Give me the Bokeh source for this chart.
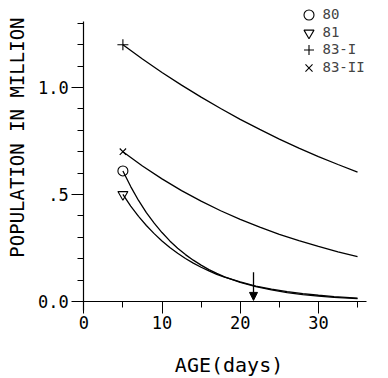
import math
from bokeh.plotting import figure
from bokeh.models import (Range1d, SingleIntervalTicker, Legend, LegendItem, Label,
                          Arrow, NormalHead)
from bokeh.embed import file_html
from bokeh.resources import INLINE

# ---- data ----
series_names = ["80", "81", "83-I", "83-II"]
obs_day = [5, 5, 5, 5]
obs_pop = [0.61, 0.50, 1.20, 0.70]

day_fast = [5, 6, 7, 8, 9, 10, 11, 12, 13, 14, 15, 16, 17, 18, 20, 22, 24, 26, 28, 30, 32, 35]
pop_80 = [0.610, 0.537, 0.472, 0.415, 0.366, 0.322, 0.283, 0.249, 0.219, 0.193, 0.170,
          0.149, 0.131, 0.115, 0.089, 0.069, 0.054, 0.041, 0.032, 0.025, 0.019, 0.013]
pop_81 = [0.500, 0.446, 0.398, 0.355, 0.317, 0.283, 0.252, 0.225, 0.201, 0.179, 0.160,
          0.143, 0.127, 0.114, 0.091, 0.072, 0.058, 0.046, 0.037, 0.029, 0.023, 0.016]

day_slow = [5, 7.5, 10, 12.5, 15, 17.5, 20, 22.5, 25, 27.5, 30, 32.5, 35]
pop_83_1 = [1.200, 1.133, 1.070, 1.011, 0.955, 0.902, 0.851, 0.804, 0.759, 0.717, 0.677, 0.640, 0.604]
pop_83_2 = [0.700, 0.633, 0.573, 0.518, 0.469, 0.424, 0.384, 0.347, 0.314, 0.284, 0.257, 0.232, 0.210]

arrow_day = 21.7
arrow_from = 0.137
arrow_to = 0.005

x_tick_labels = {0: "0", 10: "10", 20: "20", 30: "30"}
y_tick_labels = {0: "0.0", 0.5: ".5", 1: "1.0"}
x_title = "AGE(days)"
y_title = "POPULATION IN MILLION"

# axis extents (drawn lines slightly overshoot the origin, as in the original plot)
x_axis_bounds = (-1.06, 36.2)
y_axis_bounds = (-0.042, 1.308)

FONT = "DejaVu Sans Mono"

p = figure(width=388, height=378, output_backend="svg", toolbar_location=None,
           x_range=Range1d(-10.65, 38.96), y_range=Range1d(-0.36, 1.4065),
           min_border_left=0, min_border_right=0, min_border_top=0, min_border_bottom=0)
p.outline_line_color = None
p.grid.visible = False
p.background_fill_color = "white"
p.border_fill_color = "white"

p.xaxis.ticker = SingleIntervalTicker(interval=10, num_minor_ticks=2)
p.yaxis.ticker = SingleIntervalTicker(interval=0.5, num_minor_ticks=5)
p.xaxis.fixed_location = 0
p.yaxis.fixed_location = 0
p.xaxis.bounds = x_axis_bounds
p.yaxis.bounds = y_axis_bounds
p.xaxis.major_label_overrides = x_tick_labels
p.yaxis.major_label_overrides = y_tick_labels
for ax in (p.xaxis, p.yaxis):
    ax.axis_line_color = "black"
    ax.axis_line_width = 1.2
    ax.major_tick_in = 0
    ax.major_tick_out = 12
    ax.minor_tick_in = 0
    ax.minor_tick_out = 6
    ax.major_tick_line_color = "black"
    ax.minor_tick_line_color = "black"
    ax.major_label_text_font = FONT
    ax.major_label_text_font_size = "17px"
    ax.major_label_text_color = "black"
p.xaxis.major_label_standoff = 3
p.yaxis.major_label_standoff = 3
p.yaxis.major_label_orientation = "horizontal"

lw = 1.3
p.line(day_slow, pop_83_1, line_color="black", line_width=lw)
p.line(day_slow, pop_83_2, line_color="black", line_width=lw)
p.line(day_fast, pop_80, line_color="black", line_width=lw)
p.line(day_fast, pop_81, line_color="black", line_width=lw)

r80 = p.scatter([obs_day[0]], [obs_pop[0]], marker="circle", size=10, fill_color=None,
                line_color="black", line_width=1.1)
r81 = p.scatter([obs_day[1]], [obs_pop[1]], marker="inverted_triangle", size=10, fill_color=None,
                line_color="black", line_width=1.1)
r831 = p.scatter([obs_day[2]], [obs_pop[2]], marker="cross", size=11, fill_color=None,
                 line_color="black", line_width=1.1)
r832 = p.scatter([obs_day[3]], [obs_pop[3]], marker="x", size=9, fill_color=None,
                 line_color="black", line_width=1.1)

p.add_layout(Arrow(x_start=arrow_day, y_start=arrow_from, x_end=arrow_day, y_end=arrow_to,
                   line_color="black", line_width=1.3,
                   end=NormalHead(size=8, fill_color="black", line_color="black")))

# one single-entry legend per row, so that the rows sit as closely as in the original
legend_row_bottoms = [351.5, 333.5, 316.5, 298.5]
for name, rend, vy in zip(series_names, [r80, r81, r831, r832], legend_row_bottoms):
    lg = Legend(items=[LegendItem(label=name, renderers=[rend])],
                location=(295.5, vy), padding=0, margin=0, spacing=0,
                glyph_width=25, glyph_height=25, label_height=16, label_standoff=2,
                label_text_font=FONT, label_text_font_size="14px",
                border_line_color=None, background_fill_alpha=0)
    p.add_layout(lg, "center")

p.add_layout(Label(x=18.57, y=-0.297, text=x_title, text_font=FONT, text_font_size="20px",
                   text_align="center", text_baseline="middle", text_color="black"))
p.add_layout(Label(x=-8.6, y=0.766, text=y_title, text_font=FONT, text_font_size="19px",
                   angle=math.pi / 2, text_align="center", text_baseline="middle",
                   text_color="black"))

open("out.html", "w").write(file_html(p, INLINE))
